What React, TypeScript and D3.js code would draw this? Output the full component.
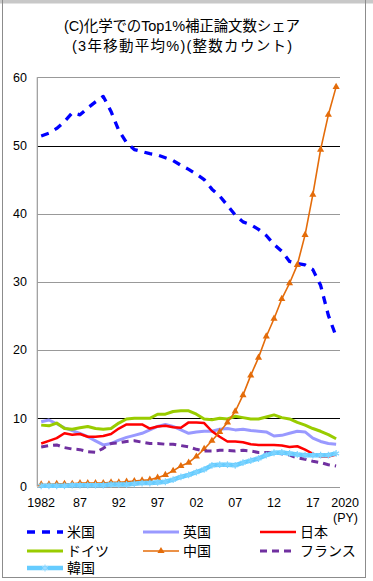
import React from "react";
import * as d3 from "d3";

const years: number[] = d3.range(1982, 2021);

const usa = [51.4, 51.8, 52.5, 53.5, 54.8, 54.5, 55.5, 56.4, 57.2, 55.0, 52.2, 50.4, 49.4, 49.1, 48.8, 48.6, 48.2, 47.8, 47.1, 46.5, 45.8, 45.0, 43.6, 42.6, 41.2, 39.8, 38.8, 38.4, 37.7, 36.8, 35.5, 34.5, 33.0, 32.7, 32.5, 31.8, 29.5, 25.1, 22.0];
const uk = [9.5, 9.75, 9.2, 8.6, 8.2, 7.8, 7.3, 6.7, 6.1, 6.3, 6.8, 7.2, 7.5, 7.8, 8.3, 8.8, 9.1, 8.8, 8.3, 7.8, 8.0, 8.1, 8.1, 8.4, 8.5, 8.3, 8.4, 8.2, 8.1, 8.0, 7.4, 7.5, 7.8, 8.1, 8.0, 7.1, 6.6, 6.3, 6.2];
const japan = [6.3, 6.7, 7.1, 7.8, 7.6, 7.7, 7.3, 7.3, 7.4, 7.7, 8.5, 9.1, 9.1, 9.1, 8.5, 8.8, 8.9, 8.7, 8.6, 9.4, 9.4, 9.3, 8.1, 7.3, 6.6, 6.6, 6.5, 6.2, 6.1, 6.1, 6.1, 6.0, 5.8, 5.9, 5.4, 4.8, 4.4, 4.4, 4.7];
const germany = [9.0, 8.9, 9.3, 8.5, 8.4, 8.6, 8.8, 8.5, 8.4, 8.5, 9.3, 9.9, 10.0, 10.0, 10.0, 10.6, 10.6, 11.0, 11.1, 11.1, 10.6, 9.9, 9.8, 10.0, 9.9, 10.3, 10.1, 9.9, 9.9, 10.2, 10.5, 10.1, 9.9, 9.4, 9.0, 8.5, 8.1, 7.6, 7.0];
const china = [0.3, 0.3, 0.4, 0.4, 0.4, 0.5, 0.5, 0.5, 0.5, 0.6, 0.6, 0.7, 0.8, 0.9, 1.0, 1.3, 1.7, 2.3, 3.0, 3.5, 4.4, 5.5, 6.7, 8.0, 9.4, 11.0, 13.4, 16.3, 18.9, 22.0, 24.6, 27.5, 29.8, 32.5, 36.9, 42.8, 49.4, 54.5, 58.6];
const france = [5.8, 6.0, 6.1, 5.7, 5.5, 5.4, 5.1, 5.0, 5.6, 6.3, 6.4, 6.6, 6.7, 6.5, 6.3, 6.3, 6.2, 6.2, 6.0, 5.8, 5.45, 5.2, 5.2, 5.3, 5.3, 5.2, 5.3, 5.2, 5.0, 5.0, 4.9, 4.8, 4.6, 4.2, 4.0, 3.7, 3.5, 3.2, 3.0];
const korea = [0.1, 0.1, 0.1, 0.1, 0.2, 0.2, 0.2, 0.2, 0.2, 0.3, 0.3, 0.3, 0.4, 0.5, 0.5, 0.6, 0.7, 1.0, 1.4, 1.7, 2.1, 2.5, 3.1, 3.2, 3.2, 3.1, 3.5, 3.8, 4.1, 4.6, 4.95, 5.0, 4.85, 4.7, 4.6, 4.6, 4.6, 4.6, 4.85];

const yTicks = [0, 10, 20, 30, 40, 50, 60];
const xTickYears = [1982, 1987, 1992, 1997, 2002, 2007, 2012, 2017, 2020];
const xTickLabels = ["1982", "87", "92", "97", "02", "07", "12", "17", "2020"];
const titleLines = ["(C)化学でのTop1%補正論文数シェア", "(3年移動平均%)(整数カウント)"];
const titleWidths = [236, 220];

type Series = { name: string; values: number[]; color: string; width: number; dash?: string; marker?: "triangle" | "star" };

const series: Series[] = [
  { name: "米国", values: usa, color: "#0000FF", width: 3.3, dash: "8,7" },
  { name: "英国", values: uk, color: "#9999FF", width: 3 },
  { name: "日本", values: japan, color: "#FF0000", width: 2.5 },
  { name: "ドイツ", values: germany, color: "#99CC00", width: 3 },
  { name: "中国", values: china, color: "#E46C0A", width: 1.6, marker: "triangle" },
  { name: "フランス", values: france, color: "#7030A0", width: 3, dash: "7,5" },
  { name: "韓国", values: korea, color: "#66CCFF", width: 4.5, marker: "star" },
];

const FONT = "'Liberation Sans', Arial, 'Noto Sans CJK JP', sans-serif";

const W = 373;
const H = 581;
const plotLeft = 37.3;
const plotRight = 340;
const plotTop = 77.3;
const plotBottom = 486.5;

function Star({ x, y, color }: { x: number; y: number; color: string }) {
  const r = 3.4;
  const pts = [0, 60, 120].map((a) => {
    const rad = (a * Math.PI) / 180;
    return [Math.sin(rad) * r, -Math.cos(rad) * r];
  });
  return (
    <g transform={`translate(${x},${y})`} stroke={color} strokeWidth={1.2}>
      {pts.map(([dx, dy], i) => (
        <line key={i} x1={-dx} y1={-dy} x2={dx} y2={dy} />
      ))}
    </g>
  );
}

export default function App() {
  const x = d3.scalePoint<number>().domain(years).range([plotLeft, plotRight]).padding(0.5);
  const y = d3.scaleLinear().domain([0, 60]).range([plotBottom, plotTop]);
  const line = d3
    .line<number>()
    .x((_, i) => x(years[i]) as number)
    .y((d) => y(d));
  const tri = d3.symbol().type(d3.symbolTriangle).size(22);

  const legendCols = [27, 143, 260];
  const legendRows = [532, 551, 568];
  const legendLen = 36;

  return (
    <svg
      width={W}
      height={H}
      style={{ position: "absolute", left: 0, top: 0, background: "#fff" }}
      fontFamily={FONT}
    >
      <rect x={0} y={0} width={W} height={H} fill="#fff" />
      {/* frame */}
      <rect x={0} y={0} width={W} height={3.5} fill="#c8c8c8" />
      <line x1={2.5} y1={0} x2={2.5} y2={578} stroke="#8c8c8c" />
      <line x1={365.5} y1={0} x2={365.5} y2={578} stroke="#8c8c8c" />
      <line x1={2.5} y1={577.5} x2={365.5} y2={577.5} stroke="#8c8c8c" />

      {/* title */}
      {titleLines.map((t, i) => (
        <text
          key={i}
          x={182}
          y={31 + i * 20}
          textAnchor="middle"
          fontSize={14.5}
          fill="#000"
          textLength={titleWidths[i]}
          lengthAdjust="spacing"
        >
          {t}
        </text>
      ))}

      {/* grid */}
      {yTicks.map((t) => (
        <line
          key={t}
          x1={plotLeft}
          x2={plotRight}
          y1={Math.round(y(t)) + 0.5}
          y2={Math.round(y(t)) + 0.5}
          stroke={t === 10 || t === 50 ? "#000" : "#999"}
          strokeWidth={t === 0 ? 1.2 : 1}
        />
      ))}
      <line x1={plotLeft} x2={plotLeft} y1={plotTop} y2={plotBottom} stroke="#999" strokeWidth={1.2} />

      {/* y labels */}
      {yTicks.map((t) => (
        <text key={t} x={27} y={y(t)} dy="0.35em" textAnchor="end" fontSize={12.5} fill="#000">
          {t}
        </text>
      ))}

      {/* x labels */}
      {xTickYears.map((yr, i) => (
        <text
          key={yr}
          x={(x(yr) as number) + (yr === 2020 ? 9 : 0)}
          y={507}
          textAnchor="middle"
          fontSize={12.5}
          fill="#000"
        >
          {xTickLabels[i]}
        </text>
      ))}
      <text x={358} y={522} textAnchor="end" fontSize={12.5} fill="#000">
        (PY)
      </text>

      {/* series */}
      {series.map((s) => (
        <g key={s.name}>
          <path
            d={line(s.values) as string}
            fill="none"
            stroke={s.color}
            strokeWidth={s.width}
            strokeDasharray={s.dash}
            strokeLinejoin="round"
          />
          {s.marker === "triangle" &&
            s.values.map((v, i) => (
              <path
                key={i}
                d={tri() as string}
                transform={`translate(${x(years[i])},${y(v)})`}
                fill={s.color}
              />
            ))}
          {s.marker === "star" &&
            s.values.map((v, i) => <Star key={i} x={x(years[i]) as number} y={y(v)} color="#7fd4ff" />)}
        </g>
      ))}

      {/* legend */}
      {series.map((s, i) => {
        const cx = legendCols[i % 3];
        const cy = legendRows[Math.floor(i / 3)];
        return (
          <g key={s.name}>
            <line
              x1={cx}
              x2={cx + legendLen}
              y1={cy}
              y2={cy}
              stroke={s.color}
              strokeWidth={s.width}
              strokeDasharray={s.dash}
            />
            {s.marker === "triangle" && (
              <path d={tri() as string} transform={`translate(${cx + legendLen / 2},${cy})`} fill={s.color} />
            )}
            {s.marker === "star" && <Star x={cx + legendLen / 2} y={cy} color="#9fdcff" />}
            <text x={cx + legendLen + 4} y={cy} dy="0.38em" fontSize={14} fill="#000">
              {s.name}
            </text>
          </g>
        );
      })}
    </svg>
  );
}
